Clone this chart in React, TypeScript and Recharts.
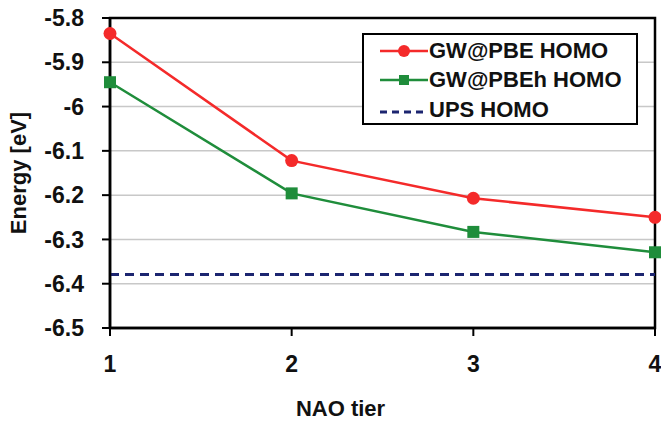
import {
  LineChart,
  Line,
  XAxis,
  YAxis,
  CartesianGrid,
  ReferenceArea,
} from 'recharts';

const tiers = [1, 2, 3, 4];
const gwPbe = [-5.835, -6.122, -6.207, -6.25];
const gwPbeh = [-5.945, -6.196, -6.283, -6.329];
const upsHomo = [-6.379, -6.379, -6.379, -6.379];
const yTicks = [-6.5, -6.4, -6.3, -6.2, -6.1, -6, -5.9, -5.8];

const RED = '#f42a2a';
const GREEN = '#1f8d3b';
const NAVY = '#1c2570';
const FONT = '"Liberation Sans", Arial, sans-serif';

const data = tiers.map((t, i) => ({
  tier: t,
  pbe: gwPbe[i],
  pbeh: gwPbeh[i],
  ups: upsHomo[i],
}));

const legendRows = [
  { name: 'GW@PBE HOMO', color: RED, kind: 'circle' },
  { name: 'GW@PBEh HOMO', color: GREEN, kind: 'square' },
  { name: 'UPS HOMO', color: NAVY, kind: 'dash' },
];

// legend drawn as an overlay box, like the original figure
function LegendBox() {
  return (
    <div
      style={{
        position: 'absolute',
        left: 362,
        top: 33,
        border: '2px solid #000',
        background: '#fff',
        boxSizing: 'border-box',
        width: 276,
        height: 92,
        padding: '1px 0 0 14px',
        fontFamily: FONT,
        fontWeight: 'bold',
        fontSize: 22,
        color: '#111',
      }}
    >
      {legendRows.map((r) => (
        <div key={r.name} style={{ display: 'flex', alignItems: 'center', height: 29.5 }}>
          <svg width={50} height={20} style={{ marginRight: 1 }}>
            {r.kind === 'dash' ? (
              <line x1={2} y1={12} x2={50} y2={12} stroke={r.color} strokeWidth={3} strokeDasharray="7 5" />
            ) : (
              <line x1={2} y1={10} x2={50} y2={10} stroke={r.color} strokeWidth={2.5} />
            )}
            {r.kind === 'circle' && <circle cx={26} cy={10} r={6} fill={r.color} />}
            {r.kind === 'square' && <rect x={21} y={5} width={10} height={10} fill={r.color} />}
          </svg>
          <span>{r.name}</span>
        </div>
      ))}
    </div>
  );
}

function SquareDot(props: any) {
  const { cx, cy } = props;
  if (cx == null || cy == null) return null;
  return <rect x={cx - 6} y={cy - 6} width={12} height={12} fill={GREEN} />;
}

export default function App() {
  const tickStyle = { fontSize: 23, fontWeight: 'bold', fill: '#111', fontFamily: FONT };
  return (
    <div style={{ position: 'absolute', left: 0, top: 0, width: 661, height: 424, background: '#fff' }}>
      <LineChart width={661} height={424} data={data} margin={{ top: 18, right: 6, left: 0, bottom: 0 }}>
        <CartesianGrid vertical={false} stroke="#c8c8c8" strokeWidth={1.5} />
        <XAxis
          dataKey="tier"
          type="number"
          domain={[1, 4]}
          ticks={tiers}
          height={96}
          tickSize={8}
          tickMargin={20}
          axisLine={{ stroke: '#000', strokeWidth: 2.5 }}
          tickLine={{ stroke: '#000', strokeWidth: 2 }}
          tick={tickStyle}
          label={{
            value: 'NAO tier',
            position: 'insideBottom',
            offset: 8,
            dx: -42,
            style: { fontSize: 22, fontWeight: 'bold', fill: '#111', fontFamily: FONT },
          }}
        />
        <YAxis
          type="number"
          domain={[-6.5, -5.8]}
          ticks={yTicks}
          width={110}
          tickSize={8}
          tickMargin={18}
          interval={0}
          axisLine={{ stroke: '#000', strokeWidth: 2.5 }}
          tickLine={{ stroke: '#000', strokeWidth: 2 }}
          tick={tickStyle}
          tickFormatter={(v: number) => String(Math.round(v * 10) / 10)}
          label={{
            value: 'Energy [eV]',
            angle: -90,
            position: 'insideLeft',
            offset: 18,
            style: { fontSize: 22, fontWeight: 'bold', fill: '#111', fontFamily: FONT, textAnchor: 'middle' },
          }}
        />
        <ReferenceArea x1={1} x2={4} y1={-6.5} y2={-5.8} fill="none" stroke="#000" strokeWidth={2.5} />
        <Line
          dataKey="ups"
          stroke={NAVY}
          strokeWidth={3}
          strokeDasharray="9 6"
          dot={false}
          isAnimationActive={false}
        />
        <Line
          dataKey="pbeh"
          stroke={GREEN}
          strokeWidth={2.5}
          dot={<SquareDot />}
          activeDot={false}
          isAnimationActive={false}
        />
        <Line
          dataKey="pbe"
          stroke={RED}
          strokeWidth={2.5}
          dot={{ r: 6.5, fill: RED, stroke: RED, strokeWidth: 0 }}
          activeDot={false}
          isAnimationActive={false}
        />
      </LineChart>
      <LegendBox />
    </div>
  );
}
